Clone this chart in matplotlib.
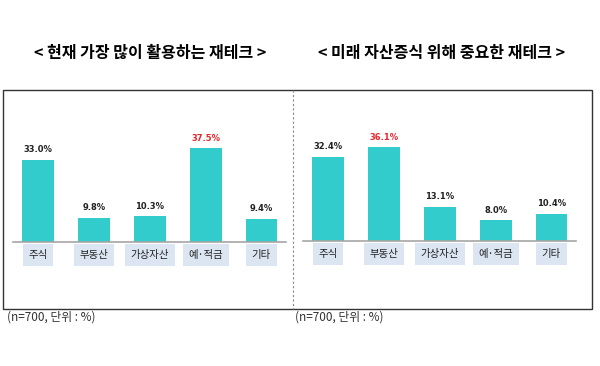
import matplotlib.pyplot as plt
from matplotlib.patches import Rectangle
from matplotlib.lines import Line2D

plt.rcParams['font.family'] = ['Noto Sans CJK KR', 'DejaVu Sans']

# data
categories = ['주식', '부동산', '가상자산', '예·적금', '기타']
current_vals = [33.0, 9.8, 10.3, 37.5, 9.4]
future_vals = [32.4, 36.1, 13.1, 8.0, 10.4]
titles = ['< 현재 가장 많이 활용하는 재테크 >', '< 미래 자산증식 위해 중요한 재테크 >']
note = '(n=700, 단위 : %)'

W, H = 600, 366
bar_color = '#33cccc'
box_color = '#dce6f2'
red = '#e8262a'

fig = plt.figure(figsize=(6, 3.66), dpi=100)

def px_axes(x0, x1, y_base, y_top):
    # pixel box (from top-left) -> figure fraction
    return fig.add_axes([x0 / W, (H - y_base) / H, (x1 - x0) / W, (y_base - y_top) / H])

def panel(ax, vals, ymax):
    x = range(len(vals))
    ax.bar(x, vals, width=0.57, color=bar_color)
    ax.set_xlim(-0.45, 4.44)
    ax.set_ylim(0, ymax)
    for s in ['top', 'left', 'right']:
        ax.spines[s].set_visible(False)
    ax.spines['bottom'].set_color('#a6a6a6')
    ax.spines['bottom'].set_linewidth(1.2)
    ax.set_xticks([])
    ax.set_yticks([])
    ax.patch.set_alpha(0)
    top = max(vals)
    for i, v in enumerate(vals):
        ax.annotate(f'{v:.1f}%', (i, v), xytext=(0, 4), textcoords='offset points',
                    ha='center', va='bottom', fontsize=6, fontweight='bold',
                    color=red if v == top else '#222222',
                    family=['Liberation Sans Narrow', 'DejaVu Sans'])
    for i, c in enumerate(categories):
        ax.text(i, -0.13, c, transform=ax.get_xaxis_transform(), ha='center', va='center',
                fontsize=7.5, color='#222222',
                bbox=dict(boxstyle='square,pad=0.55', fc=box_color, ec='none'))

ax1 = px_axes(13, 286, 242, 142)
panel(ax1, current_vals, 40)
ax2 = px_axes(303, 576, 241, 141)
panel(ax2, future_vals, 38.5)

# outer frame and divider
fig.add_artist(Rectangle((3 / W, (H - 309) / H), (592 - 3) / W, (309 - 90) / H,
                         transform=fig.transFigure, fill=False, ec='#333333', lw=1))
fig.add_artist(Line2D([293 / W, 293 / W], [(H - 90) / H, (H - 309) / H],
                      transform=fig.transFigure, color='#888888', lw=0.8, ls=(0, (2, 2))))

fig.text(150 / W, 1 - 53 / H, titles[0], ha='center', va='center', fontsize=11.5, fontweight='bold')
fig.text(442 / W, 1 - 53 / H, titles[1], ha='center', va='center', fontsize=11.5, fontweight='bold')
fig.text(7 / W, 1 - 317 / H, note, ha='left', va='center', fontsize=8.5, color='#333333')
fig.text(295 / W, 1 - 317 / H, note, ha='left', va='center', fontsize=8.5, color='#333333')

fig.savefig('out.png', dpi=100, facecolor='white')
